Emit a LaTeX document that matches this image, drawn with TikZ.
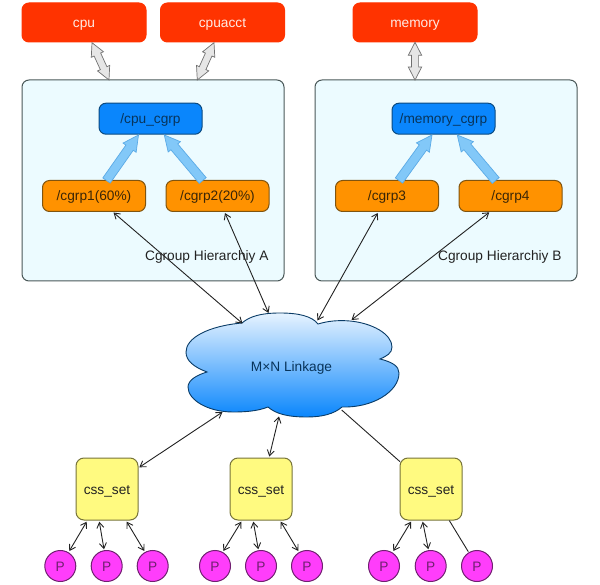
\documentclass[tikz,border=0pt]{standalone}
\usepackage{fontspec}
\setmainfont{Liberation Sans}
\usetikzlibrary{arrows.meta,calc,shadings}
\definecolor{redbox}{HTML}{FF3300}
\definecolor{panel}{HTML}{ECFBFF}
\definecolor{panelline}{HTML}{4A5858}
\definecolor{bluebox}{HTML}{0A86FC}
\definecolor{blueline}{HTML}{0B4A80}
\definecolor{orangebox}{HTML}{FF9200}
\definecolor{orangeline}{HTML}{80540F}
\definecolor{yellowbox}{HTML}{FFFA80}
\definecolor{yellowline}{HTML}{77743A}
\definecolor{pinkbox}{HTML}{FF3DFB}
\definecolor{pinkline}{HTML}{702070}
\definecolor{arrowblue}{HTML}{82C8F8}
\definecolor{arrowblueline}{HTML}{5BAAE6}
\definecolor{arrowgrey}{HTML}{E6E6E6}
\definecolor{arrowgreyline}{HTML}{707070}
\definecolor{inkdark}{HTML}{222222}
\tikzset{
  every node/.style={font=\fontsize{13.7}{15}\selectfont, inner sep=0pt, outer sep=0pt},
  base/.style={draw, line width=1pt, rounded corners=7pt, text height=10pt, text depth=0pt},
  subsys/.style={base, fill=redbox, draw=redbox, text=white!90!redbox, minimum width=124pt, minimum height=39pt},
  panelbox/.style={base, fill=panel, draw=panelline, minimum width=262pt, minimum height=201pt},
  rootbox/.style={base, fill=bluebox, draw=blueline, text=blueline!70!black, minimum width=103pt, minimum height=31pt},
  groupbox/.style={base, fill=orangebox, draw=orangeline, text=orangeline!45!black, minimum width=103pt, minimum height=31pt},
  cssbox/.style={base, fill=yellowbox, draw=yellowline, text=inkdark, rounded corners=8pt, minimum width=62pt, minimum height=62pt},
  proc/.style={draw=pinkline, line width=1pt, circle, fill=pinkbox, text=pinkline, minimum size=31pt},
  panellabel/.style={text=inkdark},
  link/.style={draw=inkdark, line width=.9pt, {Straight Barb[length=5.5pt,width=7pt]}-{Straight Barb[length=5.5pt,width=7pt]}},
  plainlink/.style={draw=inkdark, line width=.9pt},
  bluearrow/.style={draw=arrowblueline, fill=arrowblue, line width=.7pt, line join=miter},
  greyarrow/.style={draw=arrowgreyline, fill=arrowgrey, line width=.7pt, line join=miter}
}
% single block arrow: style, tail, tip
\newcommand\blockarrow[3]{%
  \draw[#1]
    ($(#2)!4.5pt!90:(#3)$) --
    ($(#3)!15.5pt!(#2)!4.5pt!-90:(#2)$) --
    ($(#3)!15.5pt!(#2)!8pt!-90:(#2)$) --
    (#3) --
    ($(#3)!15.5pt!(#2)!8pt!90:(#2)$) --
    ($(#3)!15.5pt!(#2)!4.5pt!90:(#2)$) --
    ($(#2)!4.5pt!-90:(#3)$) -- cycle;}
% double block arrow: style, end, end
\newcommand\doubleblock[3]{%
  \draw[#1]
    (#2) --
    ($(#2)!13pt!(#3)!6.7pt!90:(#3)$) --
    ($(#2)!13pt!(#3)!3.6pt!90:(#3)$) --
    ($(#3)!13pt!(#2)!3.6pt!-90:(#2)$) --
    ($(#3)!13pt!(#2)!6.7pt!-90:(#2)$) --
    (#3) --
    ($(#3)!13pt!(#2)!6.7pt!90:(#2)$) --
    ($(#3)!13pt!(#2)!3.6pt!90:(#2)$) --
    ($(#2)!13pt!(#3)!3.6pt!-90:(#3)$) --
    ($(#2)!13pt!(#3)!6.7pt!-90:(#3)$) -- cycle;}
\begin{document}
\begin{tikzpicture}[x=1pt,y=-1pt]
\useasboundingbox (0,0) rectangle (600,585);

% subsystems
\node[subsys] (cpu) at (84,22.5) {cpu};
\node[subsys] (cpuacct) at (222.5,22.5) {cpuacct};
\node[subsys] (memory) at (415,22.5) {memory};

% hierarchies
\node[panelbox] (panelA) at (153,180.5) {};
\node[panelbox] (panelB) at (446,180.5) {};
\node[panellabel, anchor=base east] (labelA) at (268.5,261) {Cgroup Hierarchiy A};
\node[panellabel, anchor=base east] (labelB) at (561.5,261) {Cgroup Hierarchiy B};

\node[rootbox] (cpuroot) at (150.5,118.7) {/cpu\_cgrp};
\node[rootbox] (memroot) at (443.5,118.7) {/memory\_cgrp};
\node[groupbox] (cgrp1) at (94,196) {/cgrp1(60\%)};
\node[groupbox] (cgrp2) at (217.5,196) {/cgrp2(20\%)};
\node[groupbox] (cgrp3) at (387,196) {/cgrp3};
\node[groupbox] (cgrp4) at (510.5,196) {/cgrp4};

% grey subsystem arrows
\coordinate (g1a) at (92,42.7); \coordinate (g1b) at (109,80);
\coordinate (g2a) at (214,42.7); \coordinate (g2b) at (197.3,80);
\coordinate (g3a) at (415,42.3); \coordinate (g3b) at (415,80);
\doubleblock{greyarrow}{g1a}{g1b}
\doubleblock{greyarrow}{g2a}{g2b}
\doubleblock{greyarrow}{g3a}{g3b}

% blue block arrows
\coordinate (b1a) at (106.5,180.5); \coordinate (b1b) at (138.5,135);
\coordinate (b2a) at (202.7,180.5); \coordinate (b2b) at (164.3,135);
\coordinate (b3a) at (399,180.5); \coordinate (b3b) at (432,135);
\coordinate (b4a) at (495.7,180.5); \coordinate (b4b) at (457.3,135);
\blockarrow{bluearrow}{b1a}{b1b}
\blockarrow{bluearrow}{b2a}{b2b}
\blockarrow{bluearrow}{b3a}{b3b}
\blockarrow{bluearrow}{b4a}{b4b}

% cloud
\shade[top color=white!90!bluebox, bottom color=bluebox, draw=blueline!80!black, line width=.9pt]
  (242,323)
  .. controls (250,316) and (262,313) .. (280,313)
  .. controls (298,313) and (312,316) .. (318,324)
  .. controls (328,321) and (338,320) .. (350,321)
  .. controls (372,323) and (392,334) .. (392,347)
  .. controls (392,353) and (387,356) .. (380,359)
  .. controls (392,362) and (399,366) .. (399,373)
  .. controls (399,392) and (372,408) .. (342,407)
  .. controls (334,414) and (322,417) .. (307,417)
  .. controls (288,417) and (276,414) .. (268,407)
  .. controls (258,411) and (246,412) .. (233,412)
  .. controls (208,412) and (188,400) .. (188,387)
  .. controls (188,380) and (197,375) .. (207,372)
  .. controls (194,367) and (186,361) .. (186,352)
  .. controls (186,338) and (208,326) .. (242,323) -- cycle;
\node[text=blueline!70!black, text height=10pt, text depth=0pt] (linkage) at (291.5,366) {M×N Linkage};

% cloud anchor points
\coordinate (cl1) at (242.5,323.5);
\coordinate (cl2) at (268.5,313);
\coordinate (cl3) at (317.5,320.5);
\coordinate (cl4) at (351.5,320);
\coordinate (cl5) at (222.5,412);
\coordinate (cl6) at (279,416.5);
\coordinate (cl7) at (341.7,410);

% group ends
\coordinate (c1e) at (113.5,212.5);
\coordinate (c2e) at (225,213);
\coordinate (c3e) at (377.7,213);
\coordinate (c4e) at (489.3,212.3);
\draw[link] (c1e) -- (cl1);
\draw[link] (c2e) -- (cl2);
\draw[link] (c3e) -- (cl3);
\draw[link] (c4e) -- (cl4);

% css sets
\node[cssbox] (css1) at (107,489) {css\_set};
\node[cssbox] (css2) at (261,489) {css\_set};
\node[cssbox] (css3) at (431,489) {css\_set};
\coordinate (s1e) at (139.3,467.3);
\coordinate (s2e) at (269.3,456.5);
\coordinate (s3e) at (400,461.7);
\draw[link] (s1e) -- (cl5);
\draw[link] (s2e) -- (cl6);
\draw[plainlink] (s3e) -- (cl7);

% processes
\foreach \n/\x in {p11/60.3,p12/106.7,p13/152.7,p21/215,p22/261,p23/307,p31/384,p32/430.7,p33/477}
  \node[proc, text height=10pt, text depth=0pt] (\n) at (\x,566) {P};

\foreach \n/\xa/\xb in {a11/86.7/69.3,a13/126.7/144.3,a21/241.3/223.3,a23/280.7/298.3,a31/411/393.3}{
  \coordinate (\n s) at (\xa,521.7);
  \coordinate (\n e) at (\xb,551);
  \draw[link] (\n s) -- (\n e);
}
\foreach \n/\xa/\xb in {a12/99.3/104,a22/253.3/258.3,a32/422.7/428.3}{
  \coordinate (\n s) at (\xa,521.7);
  \coordinate (\n e) at (\xb,549.3);
  \draw[link] (\n s) -- (\n e);
}
\coordinate (a33s) at (449.3,520.5);
\coordinate (a33e) at (468.3,551.7);
\draw[plainlink] (a33s) -- (a33e);
\end{tikzpicture}
\end{document}
